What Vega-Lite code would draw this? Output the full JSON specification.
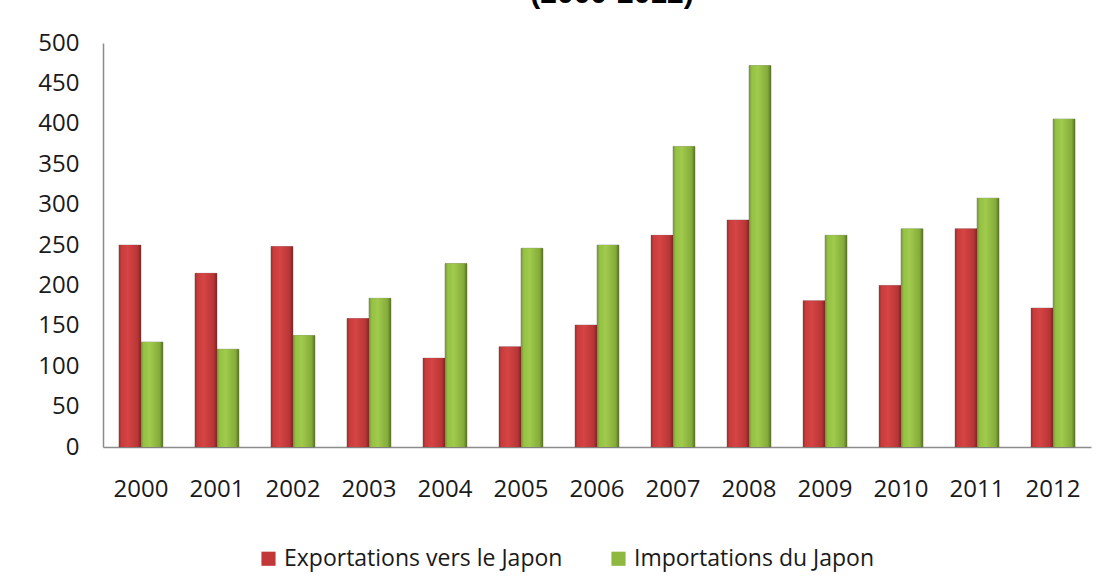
{
  "$schema": "https://vega.github.io/schema/vega-lite/v6.json",
  "autosize": {"type": "none"},
  "padding": {"left": 103, "top": 43, "right": 15, "bottom": 141},
  "width": 988,
  "height": 404,
  "background": "white",
  "title": {
    "text": "(2000-2012)",
    "font": "Liberation Sans",
    "fontSize": 30,
    "fontWeight": "bold",
    "color": "#000000",
    "anchor": "middle",
    "dx": 15,
    "offset": -2,
    "baseline": "alphabetic"
  },
  "data": {
    "values": [
      {"annee": "2000", "serie": "Exportations vers le Japon", "valeur": 250},
      {"annee": "2000", "serie": "Importations du Japon", "valeur": 130},
      {"annee": "2001", "serie": "Exportations vers le Japon", "valeur": 215},
      {"annee": "2001", "serie": "Importations du Japon", "valeur": 121},
      {"annee": "2002", "serie": "Exportations vers le Japon", "valeur": 248},
      {"annee": "2002", "serie": "Importations du Japon", "valeur": 138},
      {"annee": "2003", "serie": "Exportations vers le Japon", "valeur": 159},
      {"annee": "2003", "serie": "Importations du Japon", "valeur": 184},
      {"annee": "2004", "serie": "Exportations vers le Japon", "valeur": 110},
      {"annee": "2004", "serie": "Importations du Japon", "valeur": 227},
      {"annee": "2005", "serie": "Exportations vers le Japon", "valeur": 124},
      {"annee": "2005", "serie": "Importations du Japon", "valeur": 246},
      {"annee": "2006", "serie": "Exportations vers le Japon", "valeur": 151},
      {"annee": "2006", "serie": "Importations du Japon", "valeur": 250},
      {"annee": "2007", "serie": "Exportations vers le Japon", "valeur": 262},
      {"annee": "2007", "serie": "Importations du Japon", "valeur": 372},
      {"annee": "2008", "serie": "Exportations vers le Japon", "valeur": 281},
      {"annee": "2008", "serie": "Importations du Japon", "valeur": 472},
      {"annee": "2009", "serie": "Exportations vers le Japon", "valeur": 181},
      {"annee": "2009", "serie": "Importations du Japon", "valeur": 262},
      {"annee": "2010", "serie": "Exportations vers le Japon", "valeur": 200},
      {"annee": "2010", "serie": "Importations du Japon", "valeur": 270},
      {"annee": "2011", "serie": "Exportations vers le Japon", "valeur": 270},
      {"annee": "2011", "serie": "Importations du Japon", "valeur": 308},
      {"annee": "2012", "serie": "Exportations vers le Japon", "valeur": 172},
      {"annee": "2012", "serie": "Importations du Japon", "valeur": 406}
    ]
  },
  "encoding": {
    "x": {
      "field": "annee",
      "type": "nominal",
      "scale": {"paddingInner": 0.421, "paddingOuter": 0.21},
      "axis": {
        "title": null,
        "labelAngle": 0,
        "labelFont": "Open Sans",
        "labelFontSize": 24,
        "labelColor": "#1a1a1a",
        "labelPadding": 30,
        "ticks": false,
        "domainColor": "#8c8c8c",
        "domainWidth": 1.5
      }
    },
    "xOffset": {
      "field": "serie",
      "type": "nominal",
      "scale": {"domain": ["Exportations vers le Japon", "Importations du Japon"], "paddingInner": 0, "paddingOuter": 0}
    },
    "y": {
      "field": "valeur",
      "type": "quantitative",
      "scale": {"domain": [0, 500], "nice": false},
      "axis": {
        "title": null,
        "values": [0, 50, 100, 150, 200, 250, 300, 350, 400, 450, 500],
        "grid": false,
        "ticks": false,
        "labelFont": "Open Sans",
        "labelFontSize": 24,
        "labelColor": "#1a1a1a",
        "labelPadding": 24,
        "domainColor": "#8c8c8c",
        "domainWidth": 1.5
      }
    }
  },
  "layer": [
    {
      "mark": {"type": "bar", "stroke": "#4a4a4a", "strokeOpacity": 0.35, "strokeWidth": 1},
      "encoding": {
        "color": {
          "field": "serie",
          "type": "nominal",
          "scale": {
            "domain": ["Exportations vers le Japon", "Importations du Japon"],
            "range": ["#c23838", "#8fb840"]
          },
          "legend": {
            "title": null,
            "orient": "none",
            "direction": "horizontal",
            "legendX": 154,
            "legendY": 504,
            "symbolType": "square",
            "symbolSize": 200,
            "symbolStrokeWidth": 0,
            "symbolOpacity": 1,
            "labelFont": "Open Sans",
            "labelFontSize": 23,
            "labelColor": "#1a1a1a",
            "labelOffset": 4,
            "columnPadding": 44,
            "labelLimit": 400
          }
        }
      }
    },
    {
      "mark": {"type": "bar"},
      "encoding": {
        "fill": {
          "condition": {
            "test": "datum.serie === 'Exportations vers le Japon'",
            "value": {"gradient": "linear", "x1": 0, "y1": 0, "x2": 1, "y2": 0, "stops": [
              {"offset": 0, "color": "#9e2c2c"},
              {"offset": 0.12, "color": "#c93c3c"},
              {"offset": 0.4, "color": "#d64444"},
              {"offset": 0.85, "color": "#b83535"},
              {"offset": 1, "color": "#7e2424"}
            ]}
          },
          "value": {"gradient": "linear", "x1": 0, "y1": 0, "x2": 1, "y2": 0, "stops": [
            {"offset": 0, "color": "#739332"},
            {"offset": 0.12, "color": "#94c044"},
            {"offset": 0.4, "color": "#a0cb4c"},
            {"offset": 0.85, "color": "#85aa3a"},
            {"offset": 1, "color": "#566f24"}
          ]}
        }
      }
    }
  ],
  "config": {
    "view": {"stroke": null}
  }
}
